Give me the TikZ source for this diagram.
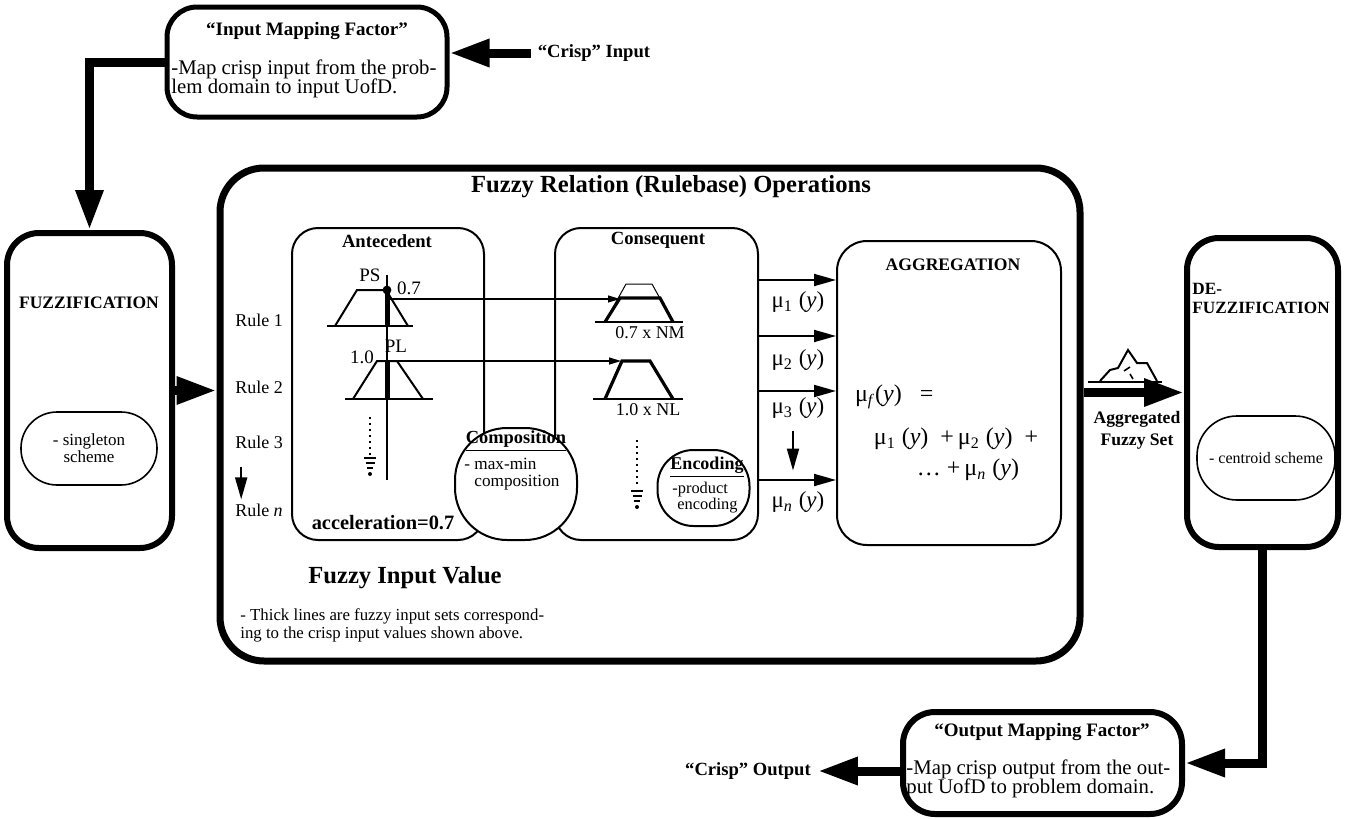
\documentclass[tikz,border=0pt]{standalone}
\usepackage{fontspec}
\setmainfont{Liberation Serif}
\usetikzlibrary{arrows.meta,shapes.geometric}
\tikzset{
  heavybox/.style={draw,line width=3pt,rounded corners=16pt,fill=white,inner sep=0pt},
  lightbox/.style={draw,line width=1pt,rounded corners=13pt,fill=white,inner sep=0pt},
  bigarrow/.style={line width=4.5pt,-{Triangle[length=20pt,width=13pt]}},
  midarrow/.style={line width=1pt,-{Triangle[length=11pt,width=6pt]}},
  thinarrow/.style={line width=0.6pt,-{Triangle[length=6pt,width=3.5pt]}},
  bigtitle/.style={font=\bfseries\fontsize{12.3}{14}\selectfont},
  boxtitle/.style={font=\bfseries\fontsize{9.3}{11}\selectfont},
  plain/.style={font=\fontsize{9}{11}\selectfont},
  mapnote/.style={font=\fontsize{10.4}{9.8}\selectfont,align=left,anchor=west,inner sep=0pt},
  mulabel/.style={font=\fontsize{11.5}{13}\selectfont},
}
\begin{document}
\begin{tikzpicture}[x=0.5pt,y=-0.5pt]
\useasboundingbox (0,0) rectangle (1346,819);
% input mapping
\node[heavybox,line width=2.5pt,rounded corners=15pt,minimum width=140pt,minimum height=55pt] (inmap) at (307,62) {};
\node[boxtitle,font=\bfseries\fontsize{9.5}{11}\selectfont] (inmaptitle) at (307,31) {``Input Mapping Factor''};
\node[mapnote] (inmapnote) at (171,79) {-Map crisp input from the prob-\\lem domain to input UofD.};
\node[boxtitle] (crispin) at (594,53) {``Crisp'' Input};
% fuzzification
\node[heavybox,minimum width=82.5pt,minimum height=157.5pt] (fuzz) at (89.5,390.5) {};
\node[font=\bfseries\fontsize{8.75}{10}\selectfont] (fuzzlbl) at (89,303) {FUZZIFICATION};
\node[lightbox,rounded corners=18pt,line width=0.8pt,minimum width=68pt,minimum height=36.5pt,align=center,font=\fontsize{8.5}{8.5}\selectfont] (singleton) at (89,448.5) {- singleton\\scheme};
% rulebase
\node[heavybox,line width=3.5pt,rounded corners=22pt,minimum width=430pt,minimum height=246.5pt] (rulebase) at (650,414.5) {};
\node[bigtitle] (rbtitle) at (671,187) {Fuzzy Relation (Rulebase) Operations};
\foreach \n/\t/\y in {rule1/Rule 1/320,rule2/Rule 2/387,rule3/Rule 3/442,rulen/Rule \textit{n}/510}
  \node[plain] (\n) at (259,\y) {\t};
\node[lightbox,minimum width=96pt,minimum height=156pt] (antec) at (388,384) {};
\node[lightbox,minimum width=101.5pt,minimum height=156pt] (conseq) at (656.5,384) {};
\node[lightbox,rounded corners=15pt,minimum width=112pt,minimum height=152pt] (aggr) at (949,393) {};
\node[lightbox,rounded corners=26pt,minimum width=61pt,minimum height=56pt] (compos) at (516,484) {};
\node[lightbox,rounded corners=18pt,minimum width=46pt,minimum height=38pt] (encod) at (703.5,488) {};
% antecedent
\node[boxtitle] (antlbl) at (387,241) {Antecedent};
\node[font=\fontsize{9.5}{11}\selectfont] (pslbl) at (370,275) {PS};
\node[font=\fontsize{9.5}{11}\selectfont] (seven) at (409,288) {0.7};
\node[font=\fontsize{9.5}{11}\selectfont] (pllbl) at (396,346) {PL};
\node[font=\fontsize{9.5}{11}\selectfont] (one) at (362,357) {1.0};
\node[font=\bfseries\fontsize{10.2}{12}\selectfont] (accel) at (383,523) {acceleration=0.7};
\draw[line width=1pt] (327,326) -- (413,326);
\draw[line width=1pt] (335,326) -- (357,290) -- (386,290) -- (408,326);
\draw[line width=1pt] (345,399) -- (433,399);
\draw[line width=1pt] (353,399) -- (377,361) -- (397,361) -- (423,399);
\draw[line width=0.6pt] (387,275) -- (387,480);
\draw[line width=2.5pt] (387,290) -- (387,326);
\draw[line width=2.5pt] (387,361) -- (387,399);
\fill (387,290) circle (2.2pt);
% consequent
\node[boxtitle] (conlbl) at (658,240) {Consequent};
\node[plain] (nmlbl) at (650,333) {0.7 x NM};
\node[plain] (nllbl) at (648,410) {1.0 x NL};
\draw[line width=1pt] (595,322) -- (683,322);
\draw[line width=0.5pt] (605,322) -- (626,284) -- (652,284) -- (673,322);
\draw[line width=1.6pt] (605,322) -- (620,298) -- (660,298) -- (673,322);
\draw[line width=1pt] (593,399) -- (683,399);
\draw[line width=1.6pt] (605,399) -- (622,361) -- (650,361) -- (673,399);
\coordinate (ps) at (387,299);
\coordinate (nm) at (620,299);
\coordinate (pl) at (377,361);
\coordinate (nl) at (621,361);
\draw[thinarrow] (ps) -- (nm);
\draw[thinarrow] (pl) -- (nl);
\foreach \x/\a/\b in {370/417/455,637/440/488} {
  \draw[line width=1pt,dotted] (\x,\a) -- (\x,\b);
  \draw[line width=1.4pt] (\x-6,\b+3) -- (\x+6,\b+3) (\x-4.5,\b+8) -- (\x+4.5,\b+8) (\x-3,\b+13) -- (\x+3,\b+13);
  \fill (\x,\b+19) circle (1pt);
}
% composition / encoding
\node[font=\bfseries\fontsize{9.2}{11}\selectfont,inner sep=1pt] (comptitle) at (516,441) {\underline{Composition}};
\node[font=\fontsize{8.6}{10}\selectfont,anchor=west,inner sep=0pt] (compnote1) at (464,464) {- max-min};
\node[font=\fontsize{8.6}{10}\selectfont,anchor=west,inner sep=0pt] (compnote2) at (474,483) {composition};
\node[font=\bfseries\fontsize{9}{11}\selectfont,inner sep=1pt] (enctitle) at (707,467) {\underline{Encoding}};
\node[font=\fontsize{8.2}{9}\selectfont,anchor=west,inner sep=0pt] (encnote1) at (672,490) {-product};
\node[font=\fontsize{8.2}{9}\selectfont,anchor=west,inner sep=0pt] (encnote2) at (677,506) {encoding};
% rule outputs
\foreach \y in {280,336,391,480}
  \draw[midarrow] (conseq.east |- 0,\y) -- (aggr.west |- 0,\y);
\node[mulabel] (mu1) at (798,302) {μ\textsubscript{1}\ (\textit{y})};
\node[mulabel] (mu2) at (798,360) {μ\textsubscript{2}\ (\textit{y})};
\node[mulabel] (mu3) at (798,408) {μ\textsubscript{3}\ (\textit{y})};
\node[mulabel] (mun) at (798,502) {μ\textsubscript{\textit{n}}\ (\textit{y})};
\draw[midarrow] (mu3.south) ++(-5,5) -- ++(0,40);
\draw[midarrow,line width=0.9pt] (rule3.south west) ++(13,12) -- ++(0,32);
% aggregation
\node[font=\bfseries\fontsize{8.8}{10}\selectfont] (agglbl) at (953,265) {AGGREGATION};
\node[font=\fontsize{12}{14}\selectfont,anchor=west] (form1) at (848,397) {μ\textsubscript{\textit{f}}(\textit{y})\ \ \ =};
\node[font=\fontsize{12}{14}\selectfont] (form2) at (956,439) {μ\textsubscript{1}\ (\textit{y})\ \ +\,μ\textsubscript{2}\ (\textit{y})\ \ +};
\node[font=\fontsize{12}{14}\selectfont] (form3) at (968,470) {\ldots\ +\,μ\textsubscript{\textit{n}}\ (\textit{y})};
% defuzzification
\node[heavybox,minimum width=75.5pt,minimum height=154.5pt] (defuzz) at (1262.5,392.5) {};
\node[font=\bfseries\fontsize{8.6}{9.5}\selectfont,align=left,anchor=north west,inner sep=0pt] (defuzzlbl) at (1192,283) {DE-\\FUZZIFICATION};
\node[lightbox,rounded corners=20pt,line width=0.8pt,minimum width=69pt,minimum height=42pt,font=\fontsize{8}{9}\selectfont] (centroid) at (1266,458) {- centroid scheme};
\draw[bigarrow] (defuzz.west -| rulebase.east) -- (defuzz.west);
\node[font=\bfseries\fontsize{8.8}{11}\selectfont,align=center] (aggset) at (1137,430) {Aggregated\\Fuzzy Set};
\draw[line width=1pt] (1088,382) -- (1162,382);
\draw[line width=1pt] (1100,381) -- (1110,370) -- (1118,368) -- (1128,350) -- (1137,363) -- (1147,363) -- (1157,381);
\draw[line width=0.8pt] (1124,371) -- (1130,367) (1130,374) -- (1133,379);
% output mapping
\node[heavybox,minimum width=139.5pt,minimum height=51pt] (outmap) at (1042.5,763) {};
\node[boxtitle,font=\bfseries\fontsize{9.5}{11}\selectfont] (outmaptitle) at (1042,732) {``Output Mapping Factor''};
\node[mapnote] (outmapnote) at (906,779) {-Map crisp output from the out-\\put UofD to problem domain.};
\node[boxtitle] (crispout) at (748,771) {``Crisp'' Output};
% fuzzy input note
\node[bigtitle] (fivlbl) at (405,578) {Fuzzy Input Value};
\node[font=\fontsize{8.4}{9}\selectfont,align=left,anchor=west,inner sep=0pt] (fivnote) at (240,625) {- Thick lines are fuzzy input sets correspond-\\ing to the crisp input values shown above.};
% main flow
\draw[bigarrow] (crispin.west) -- (crispin.west -| inmap.east);
\draw[bigarrow] (inmap.west) -| (fuzz.north);
\draw[bigarrow] (fuzz.east) -- (fuzz.east -| rulebase.west);
\draw[bigarrow] (defuzz.south) |- (outmap.east);
\draw[bigarrow] (outmap.west |- crispout.east) -- (crispout.east);
\end{tikzpicture}
\end{document}
